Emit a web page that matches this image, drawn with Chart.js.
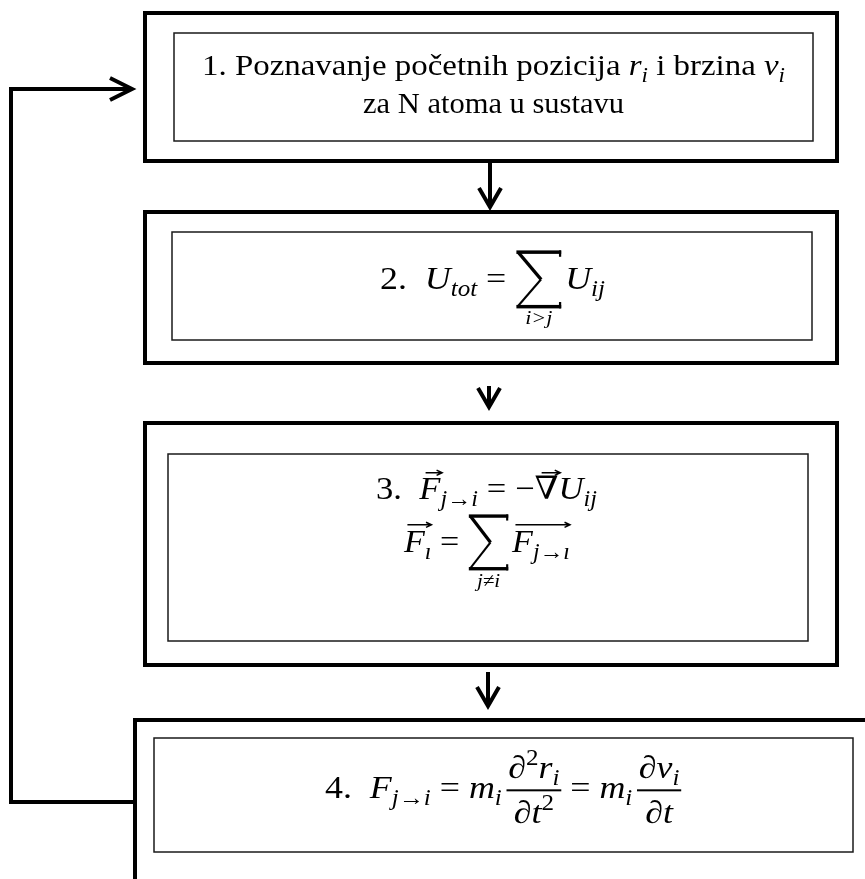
<!DOCTYPE html>
<html>
<head>
<meta charset="utf-8">
<script src="https://cdn.jsdelivr.net/npm/chart.js@4.4.1/dist/chart.umd.min.js"></script>
<style>
  html, body { margin: 0; padding: 0; background: #fff; }
  #flow { display: block; }
</style>
</head>
<body>
<canvas id="flow" width="865" height="879"></canvas>
<script>
// Text content of the four steps
var stepNumbers = ['1.', '2.', '3.', '4.'];
var stepOneWords = ['Poznavanje početnih pozicija ', ' i brzina ', 'za N atoma u sustavu'];
var symbols = ['r', 'v', 'U', 'F', 'm', 't', '∂', '∇'];
var subscripts = ['i', 'tot', 'ij', 'j→i', 'ı', 'j→ı'];
var sumLimits = ['i>j', 'j≠i'];

// Layout of the diagram (value units = pixels of the 865 x 879 page)
var outerBoxes = [
    { x0: 145, x1: 837, y0: 13, y1: 161 },
    { x0: 145, x1: 837, y0: 212, y1: 363 },
    { x0: 145, x1: 837, y0: 423, y1: 665 },
    { x0: 135, x1: 900, y0: 720, y1: 920 }
];
var innerBoxes = [
    { x0: 174, x1: 813, y0: 33, y1: 141 },
    { x0: 172, x1: 812, y0: 232, y1: 340 },
    { x0: 168, x1: 808, y0: 454, y1: 641 },
    { x0: 154, x1: 853, y0: 738, y1: 852 }
];
var downArrows = [
    { x: 490, y0: 162, y1: 208 },
    { x: 489, y0: 386, y1: 408 },
    { x: 488, y0: 672, y1: 707 }
];
var loopPath = [
    { x: 135, y: 802 }, { x: 11, y: 802 }, { x: 11, y: 89 }, { x: 131, y: 89 }
];

// small helpers for the formulas
function fnt(it, size) {
    return (it ? 'italic ' : '') + size.toFixed(1) + 'px "Liberation Serif", "DejaVu Serif", serif';
}
function sub(t) { return { t: t, it: true, k: 0.7, dy: 0.22 }; }
function sup(t) { return { t: t, k: 0.7, dy: -0.42 }; }
function it(t) { return { t: t, it: true }; }
function rm(t) { return { t: t }; }
function sp(w) { return { sp: w }; }

function runWidth(ctx, r, B) {
    if (r.sp != null) return r.sp * B;
    if (r.sum) return r.sum.w;
    if (r.frac) return Math.max(listWidth(ctx, r.frac[0], B), listWidth(ctx, r.frac[1], B)) + 0.2 * B;
    if (r.group) return listWidth(ctx, r.group, B);
    ctx.font = fnt(r.it, B * (r.k || 1));
    return ctx.measureText(r.t).width;
}
function listWidth(ctx, list, B) {
    var w = 0;
    list.forEach(function (r) { w += runWidth(ctx, r, B); });
    return w;
}
function arrowOver(ctx, xa, xb, y, B) {
    ctx.save();
    ctx.lineWidth = Math.max(1, B * 0.045);
    ctx.beginPath();
    ctx.moveTo(xa, y); ctx.lineTo(xb, y);
    ctx.moveTo(xb - B * 0.16, y - B * 0.08); ctx.lineTo(xb, y); ctx.lineTo(xb - B * 0.16, y + B * 0.08);
    ctx.stroke();
    ctx.restore();
}
// big summation sign: thick bars, thinner diagonals
function drawSigma(ctx, x, top, w, h) {
    var bar = h * 0.06;
    ctx.save();
    ctx.fillRect(x, top, w, bar);
    ctx.fillRect(x, top + h - bar, w, bar);
    ctx.fillRect(x + w - 2, top, 2, h * 0.11);
    ctx.fillRect(x + w - 2, top + h - h * 0.11, 2, h * 0.11);
    ctx.lineCap = 'butt';
    ctx.lineWidth = 3.2;
    ctx.beginPath();
    ctx.moveTo(x + 1.5, top + bar * 0.5);
    ctx.lineTo(x + w * 0.55, top + h * 0.5);
    ctx.stroke();
    ctx.lineWidth = 2;
    ctx.beginPath();
    ctx.moveTo(x + w * 0.55, top + h * 0.5);
    ctx.lineTo(x + 1, top + h - bar * 0.5);
    ctx.stroke();
    ctx.restore();
}
function drawList(ctx, list, x, y, B) {
    list.forEach(function (r) {
        var w = runWidth(ctx, r, B);
        drawRun(ctx, r, x, y, B, w);
        x += w;
    });
}
function drawRun(ctx, r, x, y, B, w) {
    if (r.sp != null) return;
    if (r.sum) {
        var axis = y - 0.3 * B;
        drawSigma(ctx, x + 1, axis - r.sum.h / 2, w - 2, r.sum.h);
        ctx.save();
        ctx.font = fnt(true, B * 0.62);
        ctx.textAlign = 'center';
        ctx.fillText(r.sum.under, x + w / 2, y + 1.1 * B);
        ctx.restore();
        return;
    }
    if (r.frac) {
        ctx.fillRect(x + 0.05 * B, y - 0.24 * B - 1, w - 0.1 * B, 2);
        var nw = listWidth(ctx, r.frac[0], B), dw = listWidth(ctx, r.frac[1], B);
        drawList(ctx, r.frac[0], x + (w - nw) / 2, y - 0.62 * B, B);
        drawList(ctx, r.frac[1], x + (w - dw) / 2, y + 0.78 * B, B);
        return;
    }
    if (r.group) {
        drawList(ctx, r.group, x, y, B);
        if (r.over) arrowOver(ctx, x + 0.1 * B, x + w, y - 0.85 * B, B);
        return;
    }
    ctx.font = fnt(r.it, B * (r.k || 1));
    ctx.fillText(r.t, x, y + (r.dy || 0) * B);
    if (r.vec) arrowOver(ctx, x + 0.3 * w, x + w + 0.05 * B, y - 0.82 * B, B);
}

// formulas, one per text line
var formulas = [
    { size: 30, x0: 202, x1: 785, y: 75, runs: [
        rm(stepNumbers[0] + ' ' + stepOneWords[0]), it(symbols[0]), sub(subscripts[0]),
        rm(stepOneWords[1]), it(symbols[1]), sub(subscripts[0])] },
    { size: 30, x0: 363, x1: 624, y: 113, runs: [rm(stepOneWords[2])] },
    { size: 32, x0: 380, x1: 605, y: 289, runs: [
        rm(stepNumbers[1]), sp(0.5), it(symbols[2]), sub(subscripts[1]), sp(0.25), rm('='), sp(0.25),
        { sum: { w: 42, h: 58, under: sumLimits[0] } }, sp(0.08), it(symbols[2]), sub(subscripts[2])] },
    { size: 32, x0: 376, x1: 597, y: 499, runs: [
        rm(stepNumbers[2]), sp(0.5), { t: symbols[3], it: true, vec: true }, sub(subscripts[3]), sp(0.25),
        rm('='), sp(0.25), rm('−'), { t: symbols[7], vec: true }, it(symbols[2]), sub(subscripts[2])] },
    { size: 32, x0: 404, x1: 570, y: 552, runs: [
        { group: [it(symbols[3]), sub(subscripts[4])], over: true }, sp(0.25), rm('='), sp(0.25),
        { sum: { w: 39, h: 56, under: sumLimits[1] } }, sp(0.08),
        { group: [it(symbols[3]), sub(subscripts[5])], over: true }] },
    { size: 32, x0: 325, x1: 683, y: 798, runs: [
        rm(stepNumbers[3]), sp(0.5), it(symbols[3]), sub(subscripts[3]), sp(0.25), rm('='), sp(0.25),
        it(symbols[4]), sub(subscripts[0]), sp(0.08),
        { frac: [[it(symbols[6]), sup('2'), it(symbols[0]), sub(subscripts[0])], [it(symbols[6]), it(symbols[5]), sup('2')]] },
        sp(0.2), rm('='), sp(0.25), it(symbols[4]), sub(subscripts[0]), sp(0.08),
        { frac: [[it(symbols[6]), it(symbols[1]), sub(subscripts[0])], [it(symbols[6]), it(symbols[5])]] }] }
];

var flowPlugin = {
    id: 'flowPlugin',
    afterDraw: function (chart) {
        var ctx = chart.ctx;
        var xs = function (v) { return chart.scales.x.getPixelForValue(v); };
        var ys = function (v) { return chart.scales.y.getPixelForValue(v); };
        ctx.save();
        ctx.strokeStyle = '#000';
        ctx.fillStyle = '#000';
        ctx.lineJoin = 'miter';

        // outer thick boxes
        ctx.lineWidth = 4;
        outerBoxes.forEach(function (b) {
            ctx.strokeRect(xs(b.x0), ys(b.y0), xs(b.x1) - xs(b.x0), ys(b.y1) - ys(b.y0));
        });
        // inner thin boxes
        ctx.lineWidth = 1.5;
        ctx.strokeStyle = '#1a1a1a';
        innerBoxes.forEach(function (b) {
            ctx.strokeRect(xs(b.x0), ys(b.y0), xs(b.x1) - xs(b.x0), ys(b.y1) - ys(b.y0));
        });

        // arrows between steps
        ctx.strokeStyle = '#000';
        ctx.lineWidth = 4;
        downArrows.forEach(function (a) {
            ctx.beginPath();
            ctx.moveTo(xs(a.x), ys(a.y0));
            ctx.lineTo(xs(a.x), ys(a.y1) - 2);
            ctx.stroke();
            ctx.beginPath();
            ctx.moveTo(xs(a.x - 11), ys(a.y1 - 20));
            ctx.lineTo(xs(a.x), ys(a.y1 - 1));
            ctx.lineTo(xs(a.x + 11), ys(a.y1 - 20));
            ctx.stroke();
        });
        // head of the loop arrow
        var end = loopPath[loopPath.length - 1];
        ctx.beginPath();
        ctx.moveTo(xs(end.x - 21), ys(end.y - 11));
        ctx.lineTo(xs(end.x + 1), ys(end.y));
        ctx.lineTo(xs(end.x - 21), ys(end.y + 11));
        ctx.stroke();

        // texts and formulas
        ctx.textBaseline = 'alphabetic';
        ctx.textAlign = 'left';
        formulas.forEach(function (f) {
            var W = listWidth(ctx, f.runs, f.size);
            var x0 = xs(f.x0), x1 = xs(f.x1);
            ctx.save();
            ctx.translate(x0, 0);
            ctx.scale((x1 - x0) / W, 1);
            drawList(ctx, f.runs, 0, ys(f.y), f.size);
            ctx.restore();
        });
        ctx.restore();
    }
};

var ctx = document.getElementById('flow').getContext('2d');

var flowChart = new Chart(ctx, {
    type: 'scatter',
    data: {
        datasets: [{
            data: loopPath,
            showLine: true,
            borderColor: '#000',
            borderWidth: 4,
            pointRadius: 0,
            tension: 0,
            borderJoinStyle: 'miter',
            clip: false
        }]
    },
    options: {
        responsive: false,
        animation: false,
        events: [],
        layout: { padding: 0 },
        plugins: { legend: { display: false }, tooltip: { enabled: false } },
        scales: {
            x: { type: 'linear', min: 0, max: 865, display: false },
            y: { type: 'linear', min: 0, max: 879, reverse: true, display: false }
        }
    },
    plugins: [flowPlugin]
});
</script>
</body>
</html>
